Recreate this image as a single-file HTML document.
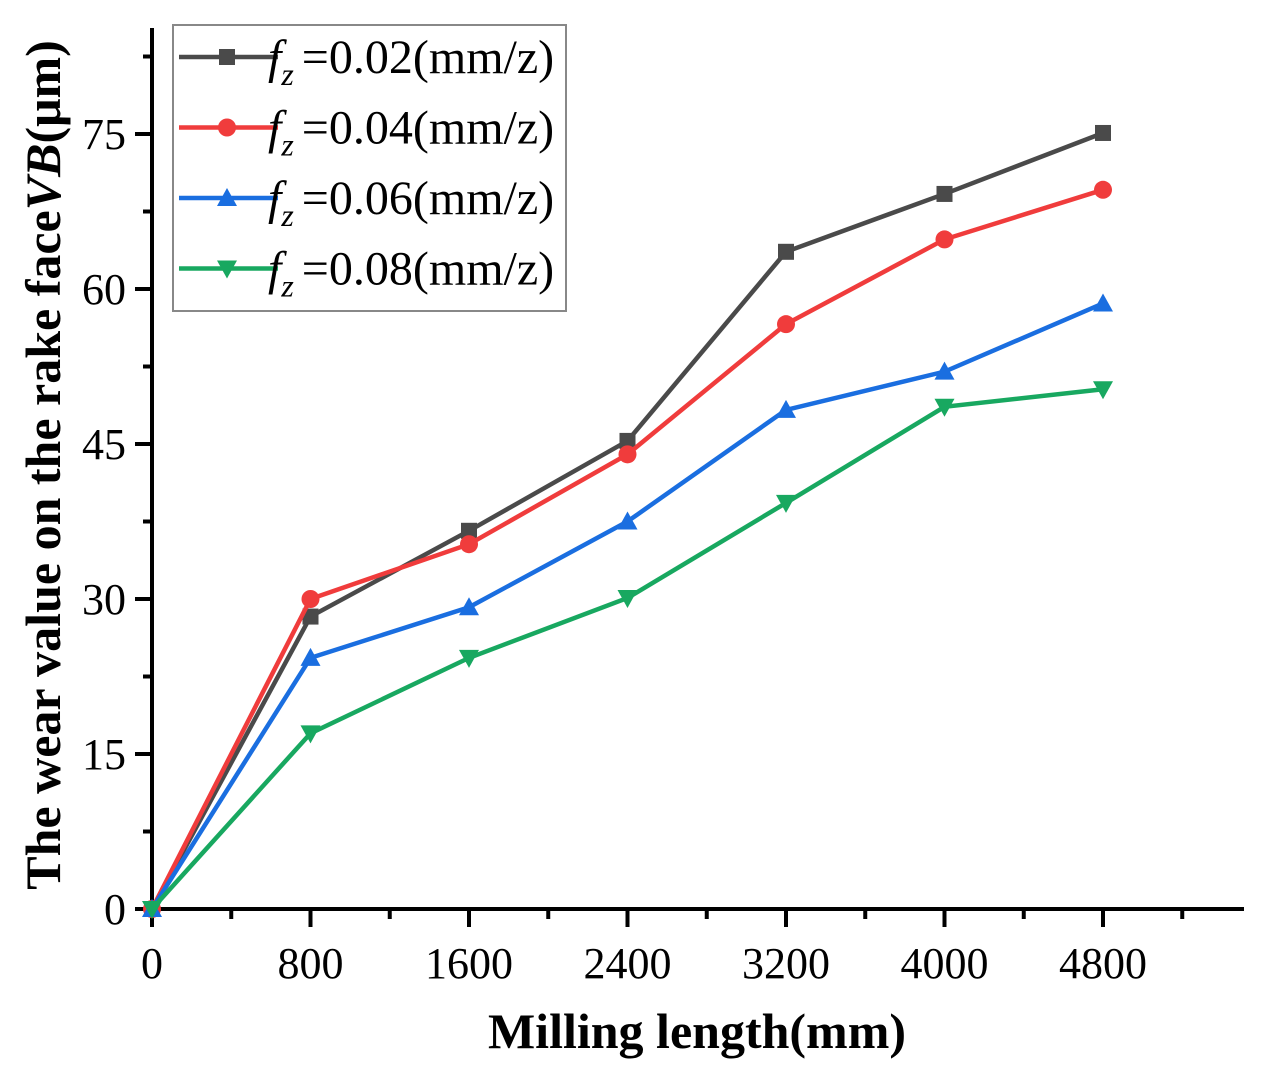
<!DOCTYPE html>
<html><head><meta charset="utf-8"><style>
html,body{margin:0;padding:0;background:#fff;}
svg{display:block;font-family:"Liberation Serif",serif;}
</style></head><body>
<svg id="chart" width="1265" height="1078" viewBox="0 0 1265 1078" xmlns="http://www.w3.org/2000/svg">
<g id="axes"></g><g id="series"></g><g id="legend"></g>
</svg>
<script>
const xCats=[0,800,1600,2400,3200,4000,4800];
const s002=[0,28.3,36.6,45.3,63.6,69.2,75.1];
const s004=[0,30.0,35.3,44.0,56.6,64.8,69.6];
const s006=[0,24.3,29.2,37.5,48.3,52.0,58.6];
const s008=[0,17.0,24.3,30.1,39.3,48.6,50.3];
const yTicks=[0,15,30,45,60,75];
const xTicks=[0,800,1600,2400,3200,4000,4800];
const legendLabels=["=0.02(mm/z)","=0.04(mm/z)","=0.06(mm/z)","=0.08(mm/z)"];
const NS="http://www.w3.org/2000/svg";
const X=v=>152+v*(1103-152)/4800;
const Y=v=>909-v*(909-134)/75;
function mk(t,a,p){const e=document.createElementNS(NS,t);for(const k in a)e.setAttribute(k,a[k]);p.appendChild(e);return e;}
const ax=document.getElementById('axes');
const yl=mk('line',{x1:152,y1:28,x2:152,y2:911,stroke:'#000','stroke-width':4},ax);


const xl=mk('line',{x1:150,y1:909,x2:1244,y2:909,stroke:'#000','stroke-width':4},ax);


for(let v=0;v<=5400;v+=400){const maj=v%800===0;mk('line',{x1:X(v),y1:909,x2:X(v),y2:909+(maj?18:10),stroke:'#000','stroke-width':4},ax);}
for(let v=0;v<=87;v+=7.5){const maj=v%15===0;mk('line',{x1:152,y1:Y(v),x2:152-(maj?17:9),y2:Y(v),stroke:'#000','stroke-width':4},ax);}
xTicks.forEach(v=>{const t=mk('text',{x:X(v),y:978,'font-size':44,'text-anchor':'middle'},ax);t.textContent=v;

});
yTicks.forEach(v=>{const t=mk('text',{x:126,y:Y(v)+15,'font-size':44,'text-anchor':'end'},ax);t.textContent=v;

});
const xt=mk('text',{x:697,y:1048,'font-size':50,'font-weight':'bold','text-anchor':'middle'},ax);xt.textContent='Milling length(mm)';


const yt=mk('text',{x:0,y:0,'font-size':50,'font-weight':'bold','text-anchor':'middle',transform:'translate(60,465) rotate(-90)'},ax);
yt.innerHTML='The wear value on the rake face<tspan font-style="italic">VB</tspan>(μm)';


const series=[[s002,'#4a4a4a','square'],[s004,'#f03c3c','circle'],[s006,'#1a6ee0','tri'],[s008,'#18a860','tridown']];
function marker(type,cx,cy,c,p){
 if(type==='square')return mk('rect',{x:cx-8,y:cy-8,width:16,height:16,fill:c},p);
 if(type==='circle')return mk('circle',{cx:cx,cy:cy,r:9,fill:c},p);
 if(type==='tri')return mk('polygon',{points:`${cx},${cy-10} ${cx+10},${cy+8} ${cx-10},${cy+8}`,fill:c},p);
 return mk('polygon',{points:`${cx},${cy+10} ${cx+10},${cy-8} ${cx-10},${cy-8}`,fill:c},p);
}
const sg=document.getElementById('series');
series.forEach(([d,c,m],i)=>{
 const g=mk('g',{},sg);
 
 
 mk('polyline',{points:d.map((v,j)=>X(xCats[j])+','+Y(v)).join(' '),fill:'none',stroke:c,'stroke-width':4.5},g);
 d.forEach((v,j)=>{const e=marker(m,X(xCats[j]),Y(v),c,g);
 
 });
});
const lg=document.getElementById('legend');
const box=mk('rect',{x:173,y:25,width:393,height:286,fill:'#fff',stroke:'#888','stroke-width':2},lg);


series.forEach(([d,c,m],i)=>{
 const y=57+i*70.5;
 const g=mk('g',{},lg);
 
 
 mk('line',{x1:179,y1:y,x2:278,y2:y,stroke:c,'stroke-width':4.5},g);
 marker(m,227,y,c,g);
 const t=mk('text',{x:268,y:y+16,'font-size':48},g);
 t.innerHTML='<tspan font-style="italic">f</tspan><tspan font-style="italic" font-size="32" dy="12">z</tspan><tspan dy="-12" dx="8">'+legendLabels[i]+'</tspan>';
});
</script>
</body></html>
